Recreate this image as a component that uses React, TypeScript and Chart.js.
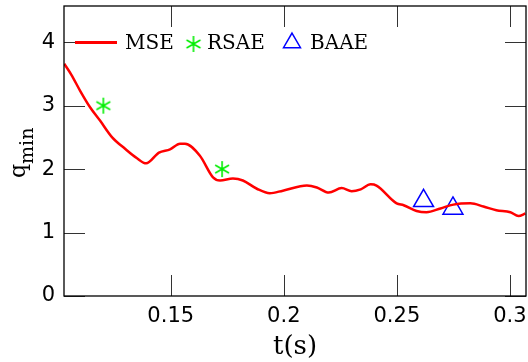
import React, { useEffect, useRef } from 'react';
import { Chart, registerables } from 'chart.js';

Chart.register(...registerables);

// ---- data ----
const mseT = [
  0.1029, 0.106, 0.11, 0.1144, 0.1188, 0.1241, 0.1298, 0.1351, 0.1391, 0.1448,
  0.1497, 0.1541, 0.1563, 0.1629, 0.1687, 0.1718, 0.1775, 0.1819, 0.1881, 0.1938,
  0.1996, 0.2102, 0.2146, 0.2199, 0.2256, 0.23, 0.234, 0.2384, 0.241, 0.2499,
  0.253, 0.2587, 0.2631, 0.2693, 0.275, 0.2825, 0.2883, 0.294, 0.3002, 0.3038, 0.3068,
];
const mseQ = [
  3.66, 3.49, 3.23, 2.97, 2.76, 2.5, 2.32, 2.17, 2.09, 2.26,
  2.31, 2.4, 2.4, 2.21, 1.87, 1.82, 1.85, 1.82, 1.69, 1.62,
  1.66, 1.74, 1.71, 1.63, 1.7, 1.65, 1.68, 1.76, 1.74, 1.46,
  1.43, 1.34, 1.32, 1.38, 1.44, 1.46, 1.41, 1.35, 1.32, 1.26, 1.3,
];
const rsaeT = [0.1202, 0.1727];
const rsaeQ = [3.0, 2.0];
const baaeT = [0.2618, 0.2748];
const baaeQ = [1.5, 1.38];

const xTicks = [0.15, 0.2, 0.25, 0.3];
const xTickLabels = ['0.15', '0.2', '0.25', '0.3'];
const yTicks = [0, 1, 2, 3, 4];
const yTickLabels = ['0', '1', '2', '3', '4'];
const legendLabels = ['MSE', 'RSAE', 'BAAE'];
const xTitle = 't(s)';
const yTitleMain = 'q';
const yTitleSub = 'min';

const X_MIN = 0.1028;
const X_MAX = 0.3071;
const Y_MIN = 0;
const Y_MAX = 4.57;

const RED = '#ff0000';
const GREEN = '#00ee00';
const BLUE = '#0000ff';

function makeStar(color: string): HTMLCanvasElement {
  const c = document.createElement('canvas');
  c.width = 20;
  c.height = 20;
  const g = c.getContext('2d')!;
  g.strokeStyle = color;
  g.lineWidth = 1.6;
  g.beginPath();
  const cx = 10, cy = 10, r = 8;
  for (let k = 0; k < 3; k++) {
    const a = Math.PI / 2 + (k * Math.PI) / 3;
    g.moveTo(cx + r * Math.cos(a), cy + r * Math.sin(a));
    g.lineTo(cx - r * Math.cos(a), cy - r * Math.sin(a));
  }
  g.stroke();
  return c;
}

const zeroPad = () => ({ left: 0, top: 0, right: 0, bottom: 0 });

export default function App() {
  const ref = useRef<HTMLCanvasElement>(null);

  useEffect(() => {
    document.body.style.margin = '0';
    const star = makeStar(GREEN);

    const decor = {
      id: 'decor',
      afterDraw(chart: any) {
        const { ctx, chartArea } = chart;
        const { left, right, top, bottom } = chartArea;
        const xs = chart.scales.x;
        const ys = chart.scales.y;
        ctx.save();
        // tick marks (inside, all four sides)
        ctx.strokeStyle = '#333';
        ctx.lineWidth = 1;
        ctx.beginPath();
        xTicks.forEach((v) => {
          const px = Math.round(xs.getPixelForValue(v)) + 0.5;
          ctx.moveTo(px, bottom);
          ctx.lineTo(px, bottom - 21);
          ctx.moveTo(px, top);
          ctx.lineTo(px, top + 21);
        });
        yTicks.forEach((v) => {
          const py = Math.round(ys.getPixelForValue(v)) + 0.5;
          ctx.moveTo(left, py);
          ctx.lineTo(left + 21, py);
          ctx.moveTo(right, py);
          ctx.lineTo(right - 21, py);
        });
        ctx.stroke();
        // frame
        ctx.strokeStyle = '#000';
        ctx.lineWidth = 1.3;
        ctx.strokeRect(left, top, right - left, bottom - top);

        // legend
        ctx.strokeStyle = RED;
        ctx.lineWidth = 3;
        ctx.beginPath();
        ctx.moveTo(75, 42.5);
        ctx.lineTo(117, 42.5);
        ctx.stroke();
        ctx.drawImage(star, 193.5 - 10, 44 - 10);
        ctx.strokeStyle = BLUE;
        ctx.lineWidth = 1.5;
        const tr = 9.8, tx = 292, ty = 42.8;
        ctx.beginPath();
        for (let k = 0; k < 3; k++) {
          const a = -Math.PI / 2 + (k * 2 * Math.PI) / 3;
          const px = tx + tr * Math.cos(a);
          const py = ty + tr * Math.sin(a);
          if (k === 0) ctx.moveTo(px, py);
          else ctx.lineTo(px, py);
        }
        ctx.closePath();
        ctx.stroke();
        ctx.fillStyle = '#000';
        ctx.font = '20px "DejaVu Serif"';
        ctx.textBaseline = 'alphabetic';
        ctx.textAlign = 'left';
        ctx.fillText(legendLabels[0], 125, 48.6);
        ctx.fillText(legendLabels[1], 207, 48.6);
        ctx.fillText(legendLabels[2], 310, 48.6);

        // x title
        ctx.font = '26px "DejaVu Serif"';
        ctx.textAlign = 'center';
        ctx.fillText(xTitle, (left + right) / 2, 354);

        // y title with subscript
        ctx.save();
        ctx.translate(24.5, 178);
        ctx.rotate(-Math.PI / 2);
        ctx.textAlign = 'left';
        ctx.font = '22px "DejaVu Serif"';
        ctx.fillText(yTitleMain, 0, 0);
        const qw = ctx.measureText(yTitleMain).width;
        ctx.font = '19px "DejaVu Serif"';
        ctx.fillText(yTitleSub, qw, 8.5);
        ctx.restore();

        ctx.restore();
      },
    };

    const chart = new Chart(ref.current!, {
      type: 'scatter',
      data: {
        datasets: [
          {
            label: legendLabels[0],
            data: mseT.map((t, i) => ({ x: t, y: mseQ[i] })),
            showLine: true,
            borderColor: RED,
            backgroundColor: RED,
            borderWidth: 2.5,
            pointRadius: 0,
            cubicInterpolationMode: 'monotone',
          },
          {
            label: legendLabels[1],
            data: rsaeT.map((t, i) => ({ x: t, y: rsaeQ[i] })),
            pointStyle: star as any,
            pointRadius: 8,
            showLine: false,
          },
          {
            label: legendLabels[2],
            data: baaeT.map((t, i) => ({ x: t, y: baaeQ[i] })),
            pointStyle: 'triangle',
            pointRadius: 11.5,
            borderColor: BLUE,
            backgroundColor: 'rgba(0,0,0,0)',
            borderWidth: 1.5,
            showLine: false,
          },
        ],
      },
      options: {
        animation: false,
        responsive: false,
        devicePixelRatio: 1,
        layout: { autoPadding: false, padding: { top: 6, right: 2, left: 0, bottom: 0 } },
        plugins: { legend: { display: false }, tooltip: { enabled: false } },
        scales: {
          x: {
            type: 'linear',
            min: X_MIN,
            max: X_MAX,
            grid: { display: false, drawTicks: false },
            border: { display: false },
            afterBuildTicks: (scale: any) => {
              scale.ticks = xTicks.map((v) => ({ value: v }));
            },
            afterFit: (scale: any) => {
              scale.height = 66;
              scale.paddingLeft = 0;
              scale.paddingRight = 0;
              scale.paddingTop = 0;
              scale.paddingBottom = 0;
              scale.getPadding = zeroPad;
            },
            ticks: {
              autoSkip: false,
              maxRotation: 0,
              padding: 8,
              color: '#000',
              font: { family: 'DejaVu Sans', size: 21 },
              callback: (v: any) => {
                const i = xTicks.indexOf(v);
                return i >= 0 ? xTickLabels[i] : '';
              },
            },
          },
          y: {
            type: 'linear',
            min: Y_MIN,
            max: Y_MAX,
            grid: { display: false, drawTicks: false },
            border: { display: false },
            afterBuildTicks: (scale: any) => {
              scale.ticks = yTicks.map((v) => ({ value: v }));
            },
            afterFit: (scale: any) => {
              scale.width = 64;
              scale.paddingLeft = 0;
              scale.paddingRight = 0;
              scale.paddingTop = 0;
              scale.paddingBottom = 0;
              scale.getPadding = zeroPad;
            },
            ticks: {
              padding: 9,
              color: '#000',
              font: { family: 'DejaVu Sans', size: 21 },
              callback: (v: any) => {
                const i = yTicks.indexOf(v);
                return i >= 0 ? yTickLabels[i] : '';
              },
            },
          },
        },
      },
      plugins: [decor],
    } as any);

    return () => chart.destroy();
  }, []);

  return (
    <div style={{ position: 'fixed', left: 0, top: 0, width: 528, height: 362, background: '#fff' }}>
      <canvas ref={ref} width={528} height={362} style={{ width: 528, height: 362, display: 'block' }} />
    </div>
  );
}
